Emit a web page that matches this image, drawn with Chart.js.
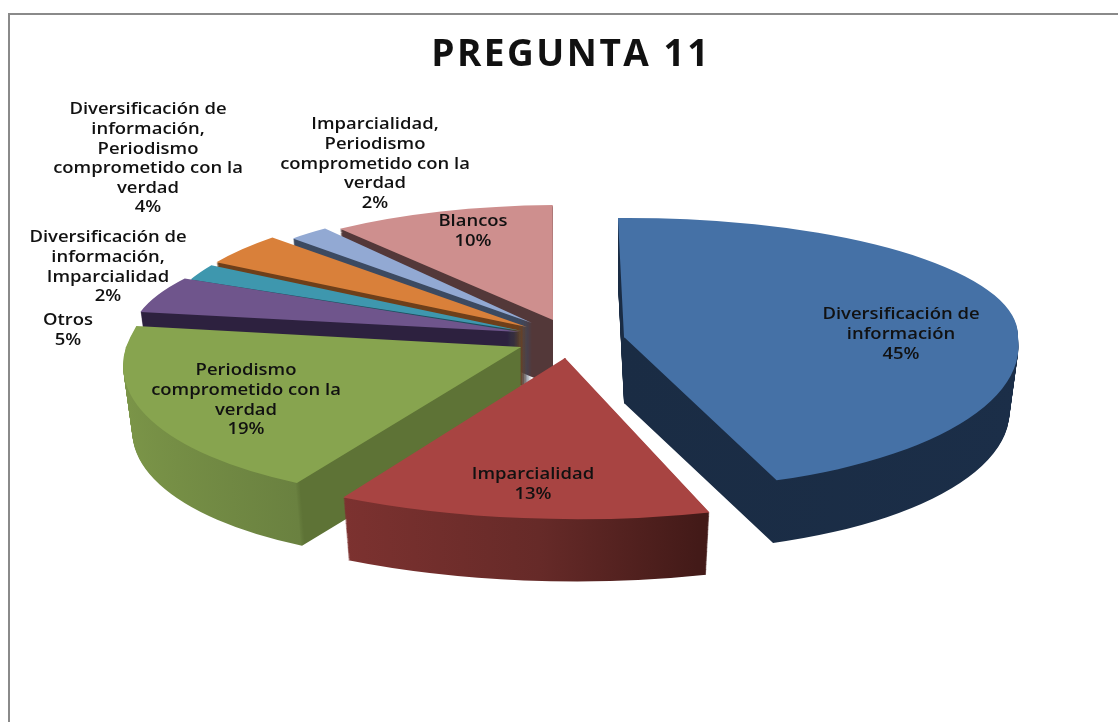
<!DOCTYPE html>
<html><head><meta charset="utf-8">
<style>html,body{margin:0;padding:0;background:#fff}canvas{display:block}</style>
<script src="https://cdn.jsdelivr.net/npm/chart.js@4"></script>
</head><body><canvas id="c" width="1118" height="722"></canvas>
<script>
const categories=["Diversificación de información","Imparcialidad","Periodismo comprometido con la verdad","Otros","Diversificación de información, Imparcialidad","Diversificación de información, Periodismo comprometido con la verdad","Imparcialidad, Periodismo comprometido con la verdad","Blancos"];
const values=[45,13,19,5,2,4,2,10];
const titleText="PREGUNTA 11";
const labelLines=[["Diversificación de","información"],["Imparcialidad"],["Periodismo","comprometido con la","verdad"],["Otros"],["Diversificación de","información,","Imparcialidad"],["Diversificación de","información,","Periodismo","comprometido con la","verdad"],["Imparcialidad,","Periodismo","comprometido con la","verdad"],["Blancos"]];
const topColors=["#4571a6","#a84442","#87a44f","#6f558c","#3e97ae","#d9803a","#92a9d3","#ce8f8e"];
// side-wall colour stops: [unsheared x, colour]
const sideStops=[
 [[618,"#1a2c44"],[1020,"#1b2e48"]],
 [[343,"#7d3230"],[550,"#662a28"],[710,"#431a18"]],
 [[130,"#7b9548"],[338,"#6a8140"],[342,"#5e7336"],[525,"#5e7336"]],
 [[100,"#2d213f"],[530,"#2d213f"]],
 [[100,"#1d4f5e"],[530,"#1d4f5e"]],
 [[100,"#6e3f1a"],[530,"#6e3f1a"]],
 [[100,"#3c4a61"],[540,"#3c4a61"]],
 [[100,"#533839"],[560,"#533839"]]];
// 3-D look of each slice: explosion point, radii, shears
const sliceApexX=[624,565,521,520,522,527,532,553];
const sliceApexY=[337,358,347,332,331,327,323,320];
const sliceRadX=[394,463,395,386,362,362,340,362];
const sliceRadTop=[119,161,211,113,128,126,119,115];
const sliceRadBot=[152,161,153,113,128,126,119,115];
const sliceShearTop=[-0.036,0,-0.4,-0.4,0,0,0,-0.08];
const sliceShearBot=[0.147,-0.066,-0.316,0,0,0,0,0];
const sliceTilt=[0,0.017,0,0.023,0,0,0,0];
const depth=66;
const wallShrink=0.00035;
const drawOrder=[7,6,5,4,3,2,1,0];
const labelCenterX=[901,533,246,68,108,148,375,473];
const labelFirstY=[315,475,371,321,238,110,125,222];
const lineGap=19.6;
const labelFont="600 15.5px 'Open Sans'";
const labelStretch=1.19;

const pie3d={id:'pie3d',
 beforeDraw(chart){chart.ctx.letterSpacing="2.5px";},
 beforeDatasetDraw(chart){
  const ctx=chart.ctx, arcs=chart.getDatasetMeta(0).data;
  ctx.letterSpacing="0px";
  drawOrder.forEach(i=>{
   const arc=arcs[i], R0=arc.outerRadius, o=arc.options;
   const ax=sliceApexX[i], ay=sliceApexY[i], rx=sliceRadX[i];
   const paint=(dy,fill)=>{
    const s=1-wallShrink*dy;
    arc.options=Object.assign({},o,{backgroundColor:fill,borderWidth:0});
    [[sliceRadTop[i],sliceShearTop[i],-2000,ay+dy+1],[sliceRadBot[i],sliceShearBot[i],ay+dy,2000]].forEach(([ry,k,y0,y1])=>{
     ctx.save();
     ctx.beginPath();ctx.rect(0,y0,1118,y1-y0);ctx.clip();
     ctx.transform(s*rx/R0,s*sliceTilt[i]*rx/R0,s*k*ry/R0,s*ry/R0,ax,ay+dy);
     ctx.translate(-arc.x,-arc.y);
     arc.draw(ctx);
     ctx.restore();
    });
    arc.options=o;
   };
   // wall gradient, x converted to the arc's own coordinates
   const stops=sideStops[i], x0=stops[0][0], x1=stops[stops.length-1][0];
   const toLocal=X=>arc.x+(X-ax)*R0/rx;
   const g=ctx.createLinearGradient(toLocal(x0),0,toLocal(x1),0);
   stops.forEach(([x,c])=>g.addColorStop((x-x0)/(x1-x0),c));
   for(let d=depth;d>=1;d--) paint(d,g);
   paint(0,topColors[i]);
  });
  return false;
 },
 afterDraw(chart){
  const ctx=chart.ctx;
  ctx.save();
  ctx.fillStyle="#8a8a8a";
  ctx.fillRect(8,13,1110,2);
  ctx.fillRect(8,13,2,709);
  ctx.fillStyle="#111";
  ctx.font=labelFont;ctx.textAlign="center";ctx.textBaseline="middle";
  const total=values.reduce((a,b)=>a+b,0);
  labelLines.forEach((lines,i)=>{
   const all=lines.concat([Math.round(values[i]/total*100)+"%"]);
   all.forEach((t,j)=>{
    ctx.save();
    ctx.translate(labelCenterX[i],labelFirstY[i]+j*lineGap);
    ctx.scale(labelStretch,1);
    ctx.fillText(t,0,0);
    ctx.restore();
   });
  });
  ctx.restore();
 }
};
new Chart(document.getElementById('c'),{
 type:'pie',
 data:{labels:categories,datasets:[{data:values,backgroundColor:topColors,borderWidth:0}]},
 options:{responsive:false,animation:false,rotation:-1.5,
  layout:{padding:{left:24,top:0}},
  plugins:{legend:{display:false},tooltip:{enabled:false},
   title:{display:true,text:titleText,color:"#111",font:{family:"'Open Sans'",size:37,weight:'bold'},padding:{top:33,bottom:10}}}},
 plugins:[pie3d]
});
</script></body></html>
